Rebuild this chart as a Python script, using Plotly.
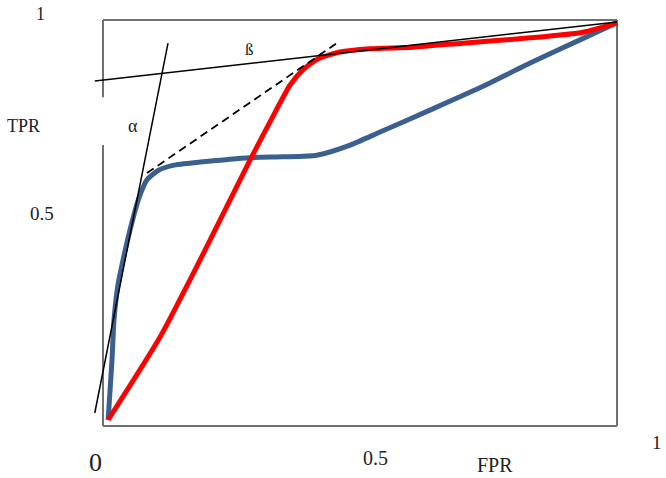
import plotly.graph_objects as go

# Curves (FPR, TPR)
red_fpr = [0.010, 0.111, 0.189, 0.286, 0.337, 0.364, 0.389, 0.418, 0.461, 0.519, 0.603, 0.700, 0.831, 0.934, 1.000]
red_tpr = [0.015, 0.219, 0.409, 0.655, 0.778, 0.840, 0.877, 0.904, 0.921, 0.929, 0.933, 0.943, 0.956, 0.970, 0.993]

blue_fpr = [0.010, 0.0175, 0.0214, 0.029, 0.039, 0.056, 0.070, 0.086, 0.108, 0.136, 0.189, 0.286, 0.350, 0.416, 0.481, 0.539, 0.636, 0.733, 0.831, 0.928, 1.000]
blue_tpr = [0.015, 0.163, 0.261, 0.347, 0.409, 0.500, 0.562, 0.607, 0.630, 0.642, 0.650, 0.661, 0.663, 0.667, 0.692, 0.724, 0.778, 0.833, 0.894, 0.951, 0.993]

# Tangent lines
alpha_x = [-0.016, 0.1265]
alpha_y = [0.032, 0.943]
beta_x = [-0.016, 1.0]
beta_y = [0.850, 0.995]
dash_x = [0.0856, 0.455]
dash_y = [0.623, 0.943]

# Frame (left edge is broken around the alpha label)
frame_segments = [
    ([0, 1], [1, 1]),
    ([1, 1], [1, 0]),
    ([1, 0], [0, 0]),
    ([0, 0], [0, 0.692]),
    ([0, 0], [0.810, 1]),
]

fig = go.Figure()
for xs, ys in frame_segments:
    fig.add_trace(go.Scatter(x=xs, y=ys, mode="lines",
                             line=dict(color="#707070", width=2), hoverinfo="skip"))

fig.add_trace(go.Scatter(x=blue_fpr, y=blue_tpr, mode="lines",
                         line=dict(color="#3b6090", width=5, shape="spline", smoothing=0.6)))
fig.add_trace(go.Scatter(x=red_fpr, y=red_tpr, mode="lines",
                         line=dict(color="#ff0000", width=5, shape="spline", smoothing=0.6)))
fig.add_trace(go.Scatter(x=alpha_x, y=alpha_y, mode="lines",
                         line=dict(color="#000000", width=1.5)))
fig.add_trace(go.Scatter(x=beta_x, y=beta_y, mode="lines",
                         line=dict(color="#000000", width=1.5)))
fig.add_trace(go.Scatter(x=dash_x, y=dash_y, mode="lines",
                         line=dict(color="#000000", width=1.8, dash="8px,5px")))

serif = "Liberation Serif"
ann = [
    dict(x=40, y=14, text="1", size=18),
    dict(x=23, y=126, text="TPR", size=18),
    dict(x=42, y=213, text="0.5", size=19),
    dict(x=95, y=462, text="0", size=26),
    dict(x=375, y=458, text="0.5", size=20),
    dict(x=657, y=442, text="1", size=19),
    dict(x=495, y=465, text="FPR", size=20),
    dict(x=133, y=126, text="α", size=18),
    dict(x=250, y=49, text="ß", size=17),
]
W, H = 666, 478
annotations = []
for a in ann:
    annotations.append(dict(x=a["x"] / W, y=1 - a["y"] / H, xref="paper", yref="paper",
                            text=a["text"], showarrow=False, xanchor="center", yanchor="middle",
                            font=dict(family=serif, size=a["size"], color="#222222")))

fig.update_layout(
    width=W, height=H,
    margin=dict(l=0, r=0, t=0, b=0),
    paper_bgcolor="white", plot_bgcolor="white",
    showlegend=False,
    xaxis=dict(range=[-103 / 514, (666 - 103) / 514], visible=False, fixedrange=True),
    yaxis=dict(range=[(426 - 478) / 406, 426 / 406], visible=False, fixedrange=True),
    annotations=annotations,
)
fig.write_html("out.html")
